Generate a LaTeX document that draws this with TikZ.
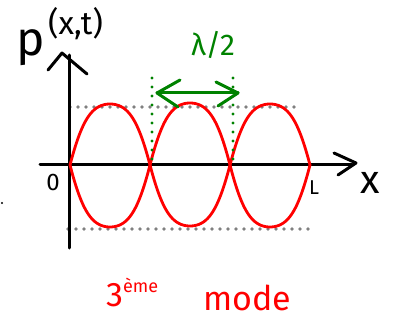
\documentclass[tikz,border=0pt]{standalone}
\usepackage{fontspec}
\setmainfont{Fira Sans}
\usetikzlibrary{arrows.meta}
\definecolor{hgreen}{RGB}{0,130,0}
\definecolor{hgray}{RGB}{128,128,128}
\begin{document}
\begin{tikzpicture}[x=1pt,y=-1pt,
  axis/.style={line width=3pt,black,line cap=round,line join=round},
  wave/.style={line width=2.8pt,red,line cap=round},
  guide/.style={line width=3.6pt,hgray,dash pattern=on 0pt off 8pt,line cap=round},
  gdot/.style={line width=3.4pt,hgreen,dash pattern=on 0pt off 9pt,line cap=round},
  lbl/.style={inner sep=0pt,font=\fontsize{24}{24}\selectfont}]
\useasboundingbox (0,0) rectangle (393,320);
% coordinates
\coordinate (ytop) at (69,55);
\coordinate (ybot) at (69,248);
\coordinate (xl) at (40,165);
\coordinate (xr) at (352,165);
% dotted guides
\draw[guide] (70,107) -- (300,107);
\draw[guide] (68,229) -- (312,229);
% axes
\draw[axis] (ybot) -- (ytop);
\draw[axis] (48,70) -- (62,53) -- (87,74);
\draw[axis] (xl) -- (xr);
\draw[axis] (334,153) -- (356,163) -- (338,175);
% waves
\draw[wave] plot[smooth,domain=0:540,samples=109] ({70+\x/540*240},{165-61*sin(\x)*(1.6-0.6*abs(sin(\x)))});
\draw[wave] plot[smooth,domain=0:540,samples=109] ({70+\x/540*240},{165+62*sin(\x)*(1.6-0.6*abs(sin(\x)))});
% green
\draw[gdot] (152,78) -- (152,165);
\draw[gdot] (233,78) -- (233,165);
\node[lbl,text=hgreen,font=\fontsize{30}{30}\selectfont] (lam) at (213,45) {λ/2};
\coordinate (al) at (157,93);
\coordinate (ar) at (238,93);
\draw[line width=3pt,hgreen,line cap=round] (al) -- (ar);
\draw[line width=3pt,hgreen,line cap=round,line join=round] (180,80) -- (al) -- (178,107);
\draw[line width=3pt,hgreen,line cap=round,line join=round] (216,82) -- (ar) -- (218,106);
% labels
\node[lbl,font=\fontsize{48}{48}\selectfont] (p) at (31,48) {p};
\node[lbl,anchor=west,font=\fontsize{32}{32}\selectfont] (xt) at (48,24) {(x,t)};
\node[lbl] (zero) at (53,182) {0};
\node[lbl,font=\fontsize{20}{20}\selectfont] (L) at (314,188) {L};
\node[lbl,font=\fontsize{40}{40}\selectfont] (x) at (370,183) {x};
\node[lbl,text=red,font=\fontsize{34}{34}\selectfont,anchor=base west] (third) at (106,306) {3\raisebox{14pt}{\fontsize{18}{18}\selectfont ème}};
\node[lbl,text=red,font=\fontsize{34}{34}\selectfont] (mode) at (247,298) {mode};
\fill (2,203) circle (1.2pt);
\end{tikzpicture}
\end{document}
